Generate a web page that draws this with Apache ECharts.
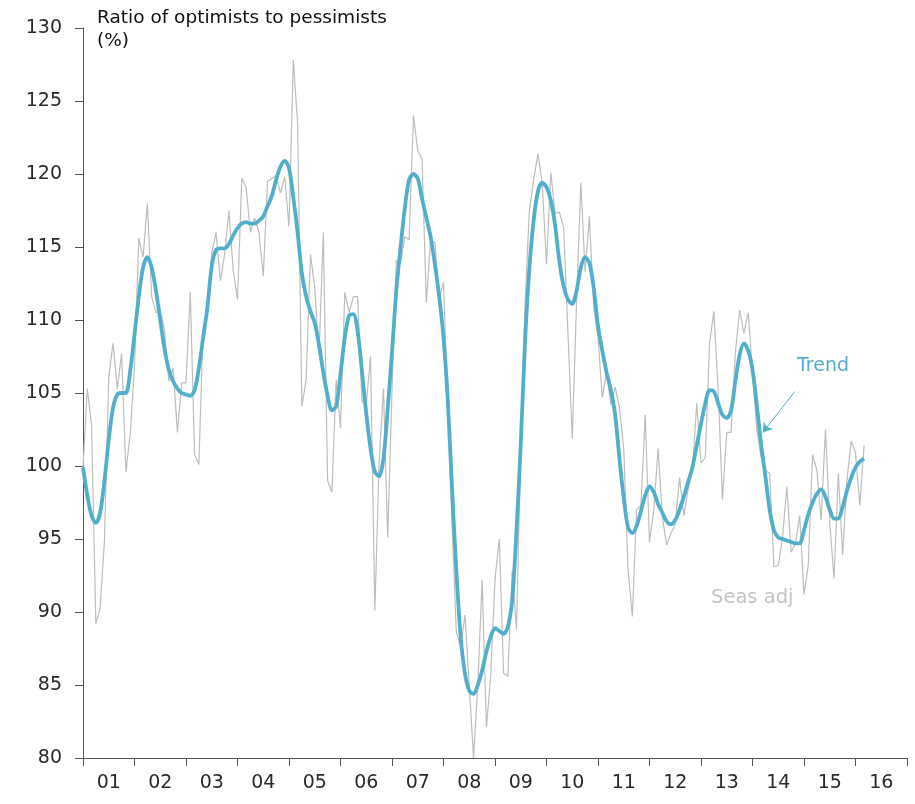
<!DOCTYPE html>
<html>
<head>
<meta charset="utf-8">
<script src="https://cdn.jsdelivr.net/npm/echarts@6/dist/echarts.min.js"></script>
<style>
html,body{margin:0;padding:0;background:#fff;}
#chart{width:915px;height:804px;}
</style>
</head>
<body>
<div id="chart"></div>
<script>
// Monthly data, Jan 2001 onward
var startYear = 2001;
var yearLabels = ['01','02','03','04','05','06','07','08','09','10','11','12','13','14','15','16'];
var yTicks = [80, 85, 90, 95, 100, 105, 110, 115, 120, 125, 130];

var seasAdj = [
  99.9,105.3,102.8,89.2,90.3,94.9,106.1,108.4,105.3,107.7,99.6,102.2,
  106.8,115.6,114.3,118.0,111.6,110.5,110.7,109.3,105.8,106.7,102.3,105.7,
  105.7,111.9,100.8,100.1,109.5,110.2,114.6,116.0,112.7,114.5,117.5,113.4,
  111.4,119.7,119.1,116.0,117.0,116.0,113.0,119.5,119.7,119.9,118.7,119.8,
  116.4,127.8,123.5,104.1,105.9,114.5,112.2,107.6,116.0,99.0,98.2,105.9,
  102.6,111.9,110.5,111.6,111.6,104.4,104.2,107.5,90.1,100.2,105.3,95.1,
  105.2,114.1,113.9,115.7,115.5,124.0,121.6,121.0,111.2,115.5,115.3,111.4,
  112.6,104.0,96.0,88.6,87.6,89.8,85.0,80.0,85.0,92.2,82.1,85.6,
  92.2,95.0,85.8,85.6,92.8,88.8,101.0,111.0,117.5,119.6,121.4,119.4,
  113.8,120.1,117.3,117.4,116.3,109.1,101.9,111.2,119.4,113.3,117.1,110.8,
  108.8,104.7,106.4,104.2,105.4,104.0,101.2,92.9,89.7,97.0,97.3,103.5,
  94.8,97.0,101.2,96.5,94.6,95.4,96.0,99.2,96.6,98.4,99.7,104.3,
  100.2,100.6,108.4,110.6,105.2,97.7,102.3,102.3,107.7,110.7,109.1,110.5,
  106.4,102.5,100.6,99.7,99.5,93.1,93.2,95.1,98.6,94.1,94.7,96.6,
  91.2,93.2,100.8,99.7,96.3,102.5,96.1,92.3,99.5,93.9,99.0,101.7,
  100.9,97.3,101.4
];

var trend = [
  99.9,98.0,96.6,96.1,96.8,99.0,101.8,104.0,104.9,105.0,105.0,106.5,
  109.0,111.6,113.6,114.3,113.6,112.0,110.0,108.0,106.6,105.8,105.3,105.0,
  104.9,104.8,105.2,106.7,108.8,110.9,113.7,114.8,114.9,114.9,115.2,115.8,
  116.3,116.6,116.7,116.6,116.6,116.8,117.1,117.8,118.5,119.6,120.5,120.9,
  120.4,118.4,116.0,113.2,111.6,110.6,109.8,108.3,106.4,104.8,103.8,104.1,
  106.3,108.8,110.3,110.4,109.2,106.5,103.6,101.2,99.6,99.3,100.5,103.9,
  107.8,112.0,115.0,117.7,119.6,120.0,119.7,118.3,117.0,115.7,113.8,111.6,
  108.8,104.5,98.4,92.8,88.3,85.8,84.6,84.4,85.0,86.0,87.3,88.3,
  88.9,88.7,88.5,89.0,90.8,95.5,101.5,108.5,113.5,116.8,118.8,119.4,
  119.1,118.2,116.5,114.0,112.3,111.4,111.1,112.0,113.6,114.3,113.9,112.2,
  109.6,107.9,106.4,105.2,103.5,100.5,97.8,95.8,95.4,95.9,96.9,98.0,
  98.6,98.2,97.4,96.8,96.2,96.0,96.3,97.0,97.9,98.9,99.9,101.4,
  102.9,104.3,105.2,105.1,104.3,103.5,103.3,103.8,105.8,107.6,108.4,107.9,
  106.6,104.2,101.5,99.3,97.0,95.6,95.1,95.0,94.9,94.8,94.7,94.7,
  95.6,96.7,97.5,98.1,98.4,97.9,97.0,96.4,96.4,97.2,98.3,99.2,
  99.9,100.3,100.5
];

function toPoints(arr) {
  return arr.map(function (v, i) { return [startYear + i / 12, v]; });
}

var FONT = 'DejaVu Sans';
var chart = echarts.init(document.getElementById('chart'), null, {renderer: 'canvas'});
var option = {
  animation: false,
  backgroundColor: '#ffffff',
  grid: {left: 83, right: 8, top: 28, bottom: 46, containLabel: false},
  xAxis: [
    {
      type: 'value', min: startYear, max: startYear + yearLabels.length, interval: 1,
      axisLine: {show: true, lineStyle: {color: '#555555', width: 1}},
      axisTick: {show: true, length: 8, lineStyle: {color: '#555555'}},
      axisLabel: {show: false},
      splitLine: {show: false}
    },
    {
      type: 'category', data: yearLabels, boundaryGap: true, position: 'bottom',
      axisLine: {show: false}, axisTick: {show: false}, splitLine: {show: false},
      axisLabel: {show: true, margin: 16, color: '#2a2a2a', fontFamily: FONT, fontSize: 19, interval: 0}
    }
  ],
  yAxis: {
    type: 'value', min: yTicks[0], max: yTicks[yTicks.length - 1], interval: 5,
    axisLine: {show: true, lineStyle: {color: '#555555', width: 1}},
    axisTick: {show: true, length: 8, lineStyle: {color: '#555555'}},
    axisLabel: {color: '#2a2a2a', fontFamily: FONT, fontSize: 19, margin: 21},
    splitLine: {show: false}
  },
  series: [
    {
      name: 'Seas adj', type: 'line', xAxisIndex: 0, data: toPoints(seasAdj),
      symbol: 'none', smooth: false,
      lineStyle: {color: '#bdbdbd', width: 1.2},
      z: 2
    },
    {
      name: 'Trend', type: 'line', xAxisIndex: 0, data: toPoints(trend),
      symbol: 'none', smooth: 0.3,
      lineStyle: {color: '#52afcb', width: 3.8},
      z: 3,
      markLine: {
        silent: true, symbol: ['none', 'arrow'], symbolSize: 9,
        lineStyle: {color: '#52afcb', width: 1, type: 'solid'},
        label: {show: false},
        data: [[{coord: [2014.82, 105.1]}, {coord: [2014.2, 102.3]}]]
      }
    }
  ],
  graphic: [
    {type: 'text', left: 97, top: 7, style: {text: 'Ratio of optimists to pessimists\n(%)', fill: '#111111', font: '18.5px "DejaVu Sans"', lineHeight: 23}},
    {type: 'text', left: 797, top: 357, style: {text: 'Trend', fill: '#52afcb', font: '19px "DejaVu Sans"'}},
    {type: 'text', left: 711, top: 588, style: {text: 'Seas adj', fill: '#c4c4c4', font: '19.5px "DejaVu Sans"'}}
  ]
};
chart.setOption(option);
</script>
</body>
</html>
